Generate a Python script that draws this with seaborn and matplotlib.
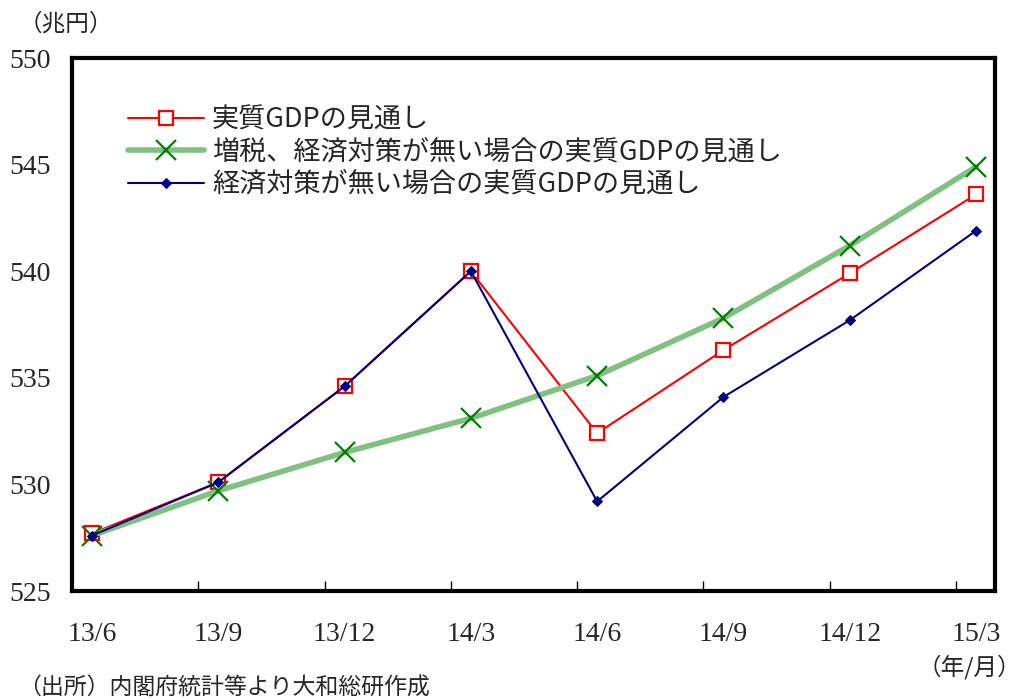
import seaborn as sns
import numpy as np
import matplotlib.pyplot as plt

# 実質GDPの見通し（兆円）
periods = ['13/6', '13/9', '13/12', '14/3', '14/6', '14/9', '14/12', '15/3']
real_gdp = [527.7, 530.1, 534.6, 540.0, 532.4, 536.3, 539.9, 543.6]
real_gdp_no_tax_no_policy = [527.6, 529.7, 531.5, 533.1, 535.1, 537.8, 541.2, 544.9]
real_gdp_no_policy = [527.6, 530.1, 534.6, 540.0, 529.2, 534.1, 537.7, 541.9]

labels = ['実質GDPの見通し', '増税、経済対策が無い場合の実質GDPの見通し', '経済対策が無い場合の実質GDPの見通し']

sns.set_style('white')
plt.rcParams['font.family'] = ['Noto Sans CJK JP', 'DejaVu Sans']

fig = plt.figure(figsize=(10.23, 6.99), dpi=100)
ax = fig.add_axes([0.0704, 0.1545, 0.9022, 0.7625])

x = np.arange(len(periods))

sns.lineplot(x=x, y=real_gdp, ax=ax, color='#ff0000', linewidth=1.5,
             marker='s', markersize=10, markerfacecolor='white', markeredgecolor='#ff0000',
             markeredgewidth=1.6, label=labels[0], zorder=2)
sns.lineplot(x=x, y=real_gdp_no_tax_no_policy, ax=ax, color='#80c080', linewidth=4,
             marker='x', markersize=15, markeredgewidth=1.6, markeredgecolor='#008000',
             label=labels[1], zorder=3)
sns.lineplot(x=x, y=real_gdp_no_policy, ax=ax, color='#000080', linewidth=1.5,
             marker='D', markersize=5, markeredgecolor='#000080', label=labels[2], zorder=4)

ax.set_xlim(-0.158, 7.15)
ax.set_ylim(525, 550)
ax.set_yticks(np.arange(525, 551, 5))
ax.set_xticks(x)
ax.set_xticklabels(periods)
ax.set_xticks(x[1:] - 0.158, minor=True)
ax.tick_params(axis='x', which='major', length=0, pad=22, labelsize=20)
ax.tick_params(axis='x', which='minor', direction='in', length=7, width=1, color='black', bottom=True)
ax.tick_params(axis='y', length=0, pad=15, labelsize=20)
for t in ax.get_xticklabels() + ax.get_yticklabels():
    t.set_fontfamily('Liberation Serif')

for s in ax.spines.values():
    s.set_visible(True)
    s.set_color('black')
    s.set_linewidth(3)
ax.set_xlabel('')
ax.set_ylabel('')
ax.grid(False)

ax.legend(loc='upper left', bbox_to_anchor=(0.046, 0.935), frameon=False, fontsize=19.5,
          handlelength=2.8, handletextpad=0.3, labelspacing=0.2, borderpad=0)

fig.text(0.018, 0.965, '（兆円）', fontsize=17, va='center', ha='left')
fig.text(0.998, 0.045, '（年/月）', fontsize=17, va='center', ha='right')
fig.text(0.018, 0.016, '（出所）内閣府統計等より大和総研作成', fontsize=16.5, va='center', ha='left')

fig.savefig('out.png', dpi=100)
